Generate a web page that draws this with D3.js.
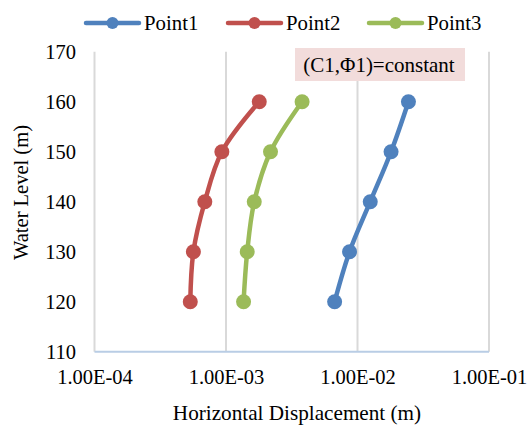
<!DOCTYPE html>
<html><head><meta charset="utf-8">
<script src="https://cdn.jsdelivr.net/npm/d3@7"></script>
</head><body style="margin:0;background:#fff"><svg id="c" width="528" height="425"></svg>
<script>
const waterLevels = [120, 130, 140, 150, 160];
const point1 = [6.7e-3, 8.7e-3, 1.25e-2, 1.8e-2, 2.44e-2];
const point2 = [5.35e-4, 5.65e-4, 6.9e-4, 9.3e-4, 1.79e-3];
const point3 = [1.36e-3, 1.45e-3, 1.64e-3, 2.18e-3, 3.79e-3];
const seriesNames = ["Point1", "Point2", "Point3"];
const xTicks = [1e-4, 1e-3, 1e-2, 1e-1];
const xTickLabels = ["1.00E-04", "1.00E-03", "1.00E-02", "1.00E-01"];
const yTicks = [110, 120, 130, 140, 150, 160, 170];
const annotation = "(C1,Φ1)=constant";

const colors = ["#4f81bd", "#c0504d", "#9bbb59"];
const seriesData = [point1, point2, point3];
const svg = d3.select("#c");
const m = {l: 94.5, r: 489, t: 51.7, b: 351.7};
const x = d3.scaleLog().domain([1e-4, 1e-1]).range([m.l, m.r]);
const y = d3.scaleLinear().domain([110, 170]).range([m.b, m.t]);

function txt(sel, size) {
  return sel.style("font-family", "Liberation Serif").style("font-size", (size || 21) + "px").style("fill", "#000");
}

// vertical gridlines
svg.append("g").selectAll("line").data(xTicks).join("line")
  .attr("x1", d => x(d)).attr("x2", d => x(d))
  .attr("y1", m.t).attr("y2", m.b)
  .attr("stroke", "#d9d9d9").attr("stroke-width", 2);
// bottom axis line
svg.append("line").attr("x1", m.l).attr("x2", m.r).attr("y1", m.b).attr("y2", m.b)
  .attr("stroke", "#b9cde5").attr("stroke-width", 2);

// x tick labels
const xa = d3.axisBottom(x).tickValues(xTicks).tickFormat((d, i) => xTickLabels[i]).tickSize(0).tickPadding(0);
const gx = svg.append("g").attr("transform", `translate(0,${m.b})`).call(xa);
gx.select(".domain").remove();
gx.selectAll("text").attr("y", 32).attr("dy", 0).call(txt, 20.5);

// y tick labels
const ya = d3.axisLeft(y).tickValues(yTicks).tickSize(0).tickPadding(0);
const gy = svg.append("g").attr("transform", `translate(76,0)`).call(ya);
gy.select(".domain").remove();
gy.selectAll("text").attr("x", 0).attr("dy", "0.33em").call(txt, 20.5);

// axis titles
svg.append("text").attr("x", 297).attr("y", 419.5).attr("text-anchor", "middle").call(txt, 21.2)
  .text("Horizontal Displacement (m)");
svg.append("text").attr("transform", "translate(28,192.5) rotate(-90)").attr("text-anchor", "middle").call(txt, 20.5)
  .text("Water Level (m)");

// annotation box
svg.append("rect").attr("x", 295).attr("y", 48).attr("width", 170).attr("height", 33).attr("fill", "#f2dcdb");
svg.append("text").attr("x", 379).attr("y", 72).attr("text-anchor", "middle").call(txt, 21).text(annotation);

// series
const line = d3.line().x(d => x(d[0])).y(d => y(d[1])).curve(d3.curveCatmullRom.alpha(0.5));
seriesData.forEach((vals, i) => {
  const pts = vals.map((v, j) => [v, waterLevels[j]]);
  svg.append("path").attr("d", line(pts)).attr("fill", "none")
    .attr("stroke", colors[i]).attr("stroke-width", 4.5).attr("stroke-linecap", "round");
  svg.append("g").selectAll("circle").data(pts).join("circle")
    .attr("cx", d => x(d[0])).attr("cy", d => y(d[1])).attr("r", 7.5).attr("fill", colors[i]);
});

// legend
const legX = [86, 228, 369];
seriesNames.forEach((n, i) => {
  const g = svg.append("g").attr("transform", `translate(${legX[i]},23)`);
  g.append("line").attr("x1", 0).attr("x2", 53).attr("stroke", colors[i]).attr("stroke-width", 4.5).attr("stroke-linecap", "round");
  g.append("circle").attr("cx", 26.5).attr("r", 6).attr("fill", colors[i]);
  g.append("text").attr("x", 58).attr("y", 6.5).call(txt, 20.8).text(n);
});
</script></body></html>
